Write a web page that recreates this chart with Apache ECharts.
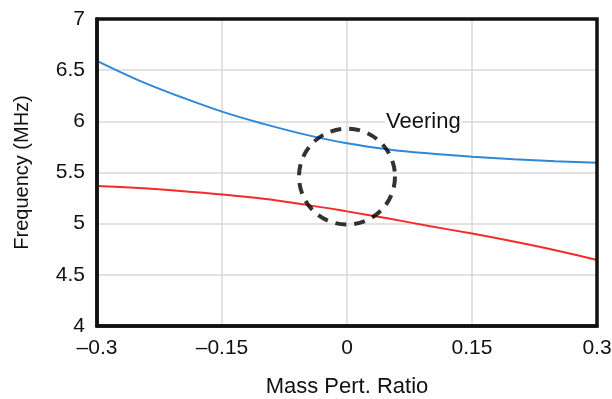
<!DOCTYPE html>
<html>
<head>
<meta charset="utf-8">
<script src="https://cdn.jsdelivr.net/npm/echarts@6/dist/echarts.min.js"></script>
<style>
  html, body { margin: 0; padding: 0; background: #fff; }
  #veer { width: 612px; height: 399px; }
</style>
</head>
<body>
<div id="veer"></div>
<script>
var ratio = [-0.3, -0.25, -0.2, -0.15, -0.1, -0.05, 0, 0.05, 0.1, 0.15, 0.2, 0.25, 0.3];
var upperMode = [6.59, 6.40, 6.24, 6.095, 5.975, 5.87, 5.785, 5.725, 5.685, 5.655, 5.63, 5.61, 5.595];
var lowerMode = [5.368, 5.348, 5.32, 5.286, 5.243, 5.186, 5.12, 5.05, 4.975, 4.903, 4.825, 4.74, 4.645];
var veeringCentre = [0, 5.46];

function pairs(xs, ys) {
    return xs.map(function (x, i) { return [x, ys[i]]; });
}

var myChart = echarts.init(document.getElementById('veer'));
var font = 'Arial, "Liberation Sans", sans-serif';

var option = {
    animation: false,
    backgroundColor: '#fff',
    grid: {
        left: 97, right: 15, top: 19, bottom: 73,
        outerBoundsMode: 'none',
        show: true, borderColor: '#111', borderWidth: 3.5, z: 10
    },
    xAxis: {
        type: 'value', min: -0.3, max: 0.3, interval: 0.15,
        name: 'Mass Pert. Ratio', nameLocation: 'middle', nameGap: 50,
        nameTextStyle: { fontFamily: font, fontSize: 22, color: '#111' },
        axisLine: { show: true, onZero: false, lineStyle: { color: '#111', width: 3.5 } },
        axisTick: { show: false },
        axisLabel: {
            fontFamily: font, fontSize: 21, color: '#111', margin: 12,
            formatter: function (v) { return String(v).replace('-', '\u2013'); }
        },
        splitLine: { show: true, showMinLine: false, showMaxLine: false,
                     lineStyle: { color: '#d9d9d9', width: 1.5 } }
    },
    yAxis: {
        type: 'value', min: 4, max: 7, interval: 0.5,
        name: 'Frequency (MHz)', nameLocation: 'middle', nameGap: 65,
        nameTextStyle: { fontFamily: font, fontSize: 20, color: '#111' },
        axisLine: { show: true, onZero: false, lineStyle: { color: '#111', width: 3.5 } },
        axisTick: { show: false },
        axisLabel: { fontFamily: font, fontSize: 21, color: '#111', margin: 12 },
        splitLine: { show: true, showMinLine: false, showMaxLine: false,
                     lineStyle: { color: '#d9d9d9', width: 1.5 } }
    },
    series: [
        {
            type: 'line', smooth: 0.4, symbol: 'none',
            lineStyle: { color: '#2f88d6', width: 2 },
            data: pairs(ratio, upperMode)
        },
        {
            type: 'line', smooth: 0.4, symbol: 'none',
            lineStyle: { color: '#f52a2a', width: 2 },
            data: pairs(ratio, lowerMode)
        },
        {
            type: 'scatter', symbol: 'circle', symbolSize: 96, z: 5,
            itemStyle: {
                color: 'rgba(0,0,0,0)', borderColor: '#000',
                borderWidth: 4, borderType: [11, 8]
            },
            data: [veeringCentre]
        }
    ],
    graphic: [
        {
            type: 'text', left: 385, top: 111, z: 20,
            style: {
                text: 'Veering', fontFamily: font, fontSize: 22, fill: '#111',
                backgroundColor: '#fff', padding: [0, 1]
            }
        }
    ]
};

myChart.setOption(option);
</script>
</body>
</html>
